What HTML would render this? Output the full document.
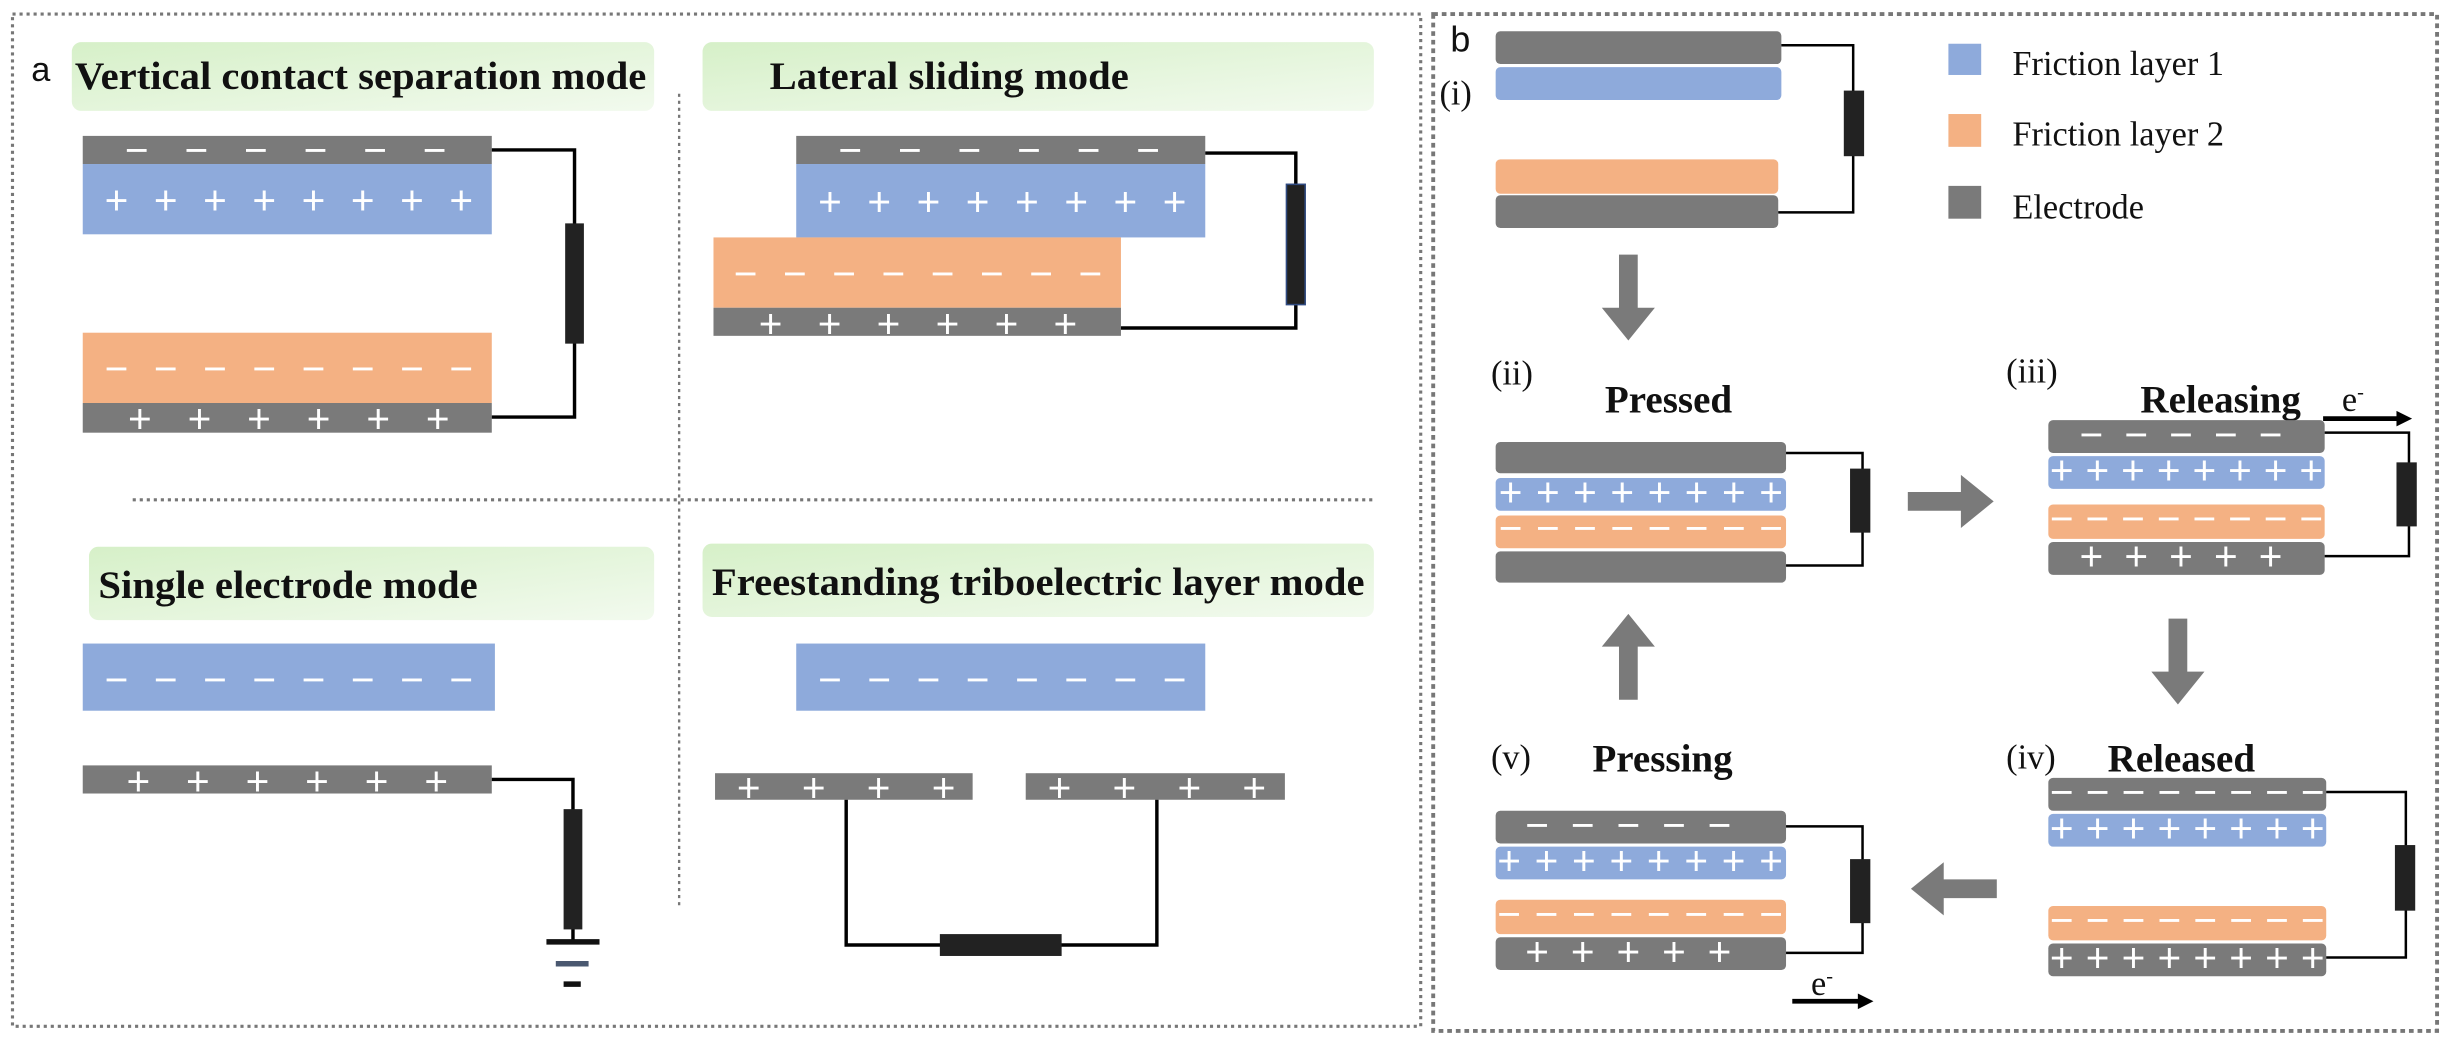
<!DOCTYPE html>
<html><head><meta charset="utf-8"><style>
html,body{margin:0;padding:0;background:#fff}
svg{display:block}
.t{font-family:"Liberation Serif",serif;font-weight:bold;font-size:25px;fill:#111}
.s{font-family:"Liberation Sans",sans-serif;fill:#fff;font-size:26px}
.r{font-family:"Liberation Serif",serif;font-size:22px;fill:#111}
.w{fill:none;stroke:#000;stroke-width:2.2}
.wb{fill:none;stroke:#000;stroke-width:1.6}
</style></head><body>
<svg width="2448" height="1045" viewBox="0 0 1568 669" preserveAspectRatio="none" xmlns="http://www.w3.org/2000/svg">
<defs>
<linearGradient id="g" x1="0" y1="0" x2="1" y2="1"><stop offset="0" stop-color="#d6f0c8"/><stop offset="1" stop-color="#f2faee"/></linearGradient>
</defs>
<rect x="8" y="9" width="902" height="648" fill="none" stroke="#777" stroke-width="2" stroke-dasharray="2 2.5"/>
<rect x="918" y="9" width="643" height="651" fill="none" stroke="#777" stroke-width="2.5" stroke-dasharray="3 2.5"/>
<line x1="435" y1="60" x2="435" y2="580" stroke="#777" stroke-width="1.5" stroke-dasharray="2 2.5"/>
<line x1="85" y1="320" x2="880" y2="320" stroke="#777" stroke-width="2" stroke-dasharray="2 2.5"/>

<text x="20" y="52" font-family="Liberation Sans,sans-serif" font-size="22" fill="#111">a</text>
<rect x="46" y="27" width="373" height="44" rx="6" fill="url(#g)"/>
<text class="t" x="48" y="57" textLength="366" lengthAdjust="spacingAndGlyphs">Vertical contact separation mode</text>
<rect x="450" y="27" width="430" height="44" rx="6" fill="url(#g)"/>
<text class="t" x="493" y="57" textLength="230" lengthAdjust="spacingAndGlyphs">Lateral sliding mode</text>
<rect x="57" y="350" width="362" height="47" rx="6" fill="url(#g)"/>
<text class="t" x="63" y="383" textLength="243" lengthAdjust="spacingAndGlyphs">Single electrode mode</text>
<rect x="450" y="348" width="430" height="47" rx="6" fill="url(#g)"/>
<text class="t" x="456" y="381" textLength="418" lengthAdjust="spacingAndGlyphs">Freestanding triboelectric layer mode</text>

<!-- VCS -->
<rect x="53" y="87" width="262" height="18" fill="#7a7a7a"/>
<rect x="53" y="105" width="262" height="45" fill="#8eaadb"/>
<rect x="53" y="213" width="262" height="45" fill="#f4b183"/>
<rect x="53" y="258" width="262" height="19" fill="#7a7a7a"/>
<text class="s" x="80" y="105" textLength="206" lengthAdjust="spacing">− − − − − −</text>
<text class="s" x="67" y="137" textLength="236" lengthAdjust="spacing">+ + + + + + + +</text>
<text class="s" x="67" y="245" textLength="236" lengthAdjust="spacing">− − − − − − − −</text>
<text class="s" x="82" y="277" textLength="206" lengthAdjust="spacing">+ + + + + +</text>
<polyline class="w" points="315,96 368,96 368,267 315,267"/>
<rect x="362" y="143" width="12" height="77" fill="#222"/>

<!-- Lateral -->
<rect x="510" y="87" width="262" height="18" fill="#7a7a7a"/>
<rect x="510" y="105" width="262" height="47" fill="#8eaadb"/>
<rect x="457" y="152" width="261" height="45" fill="#f4b183"/>
<rect x="457" y="197" width="261" height="18" fill="#7a7a7a"/>
<text class="s" x="537" y="105" textLength="206" lengthAdjust="spacing">− − − − − −</text>
<text class="s" x="524" y="138" textLength="236" lengthAdjust="spacing">+ + + + + + + +</text>
<text class="s" x="470" y="184" textLength="236" lengthAdjust="spacing">− − − − − − − −</text>
<text class="s" x="486" y="216" textLength="204" lengthAdjust="spacing">+ + + + + +</text>
<polyline class="w" points="772,98 830,98 830,210 718,210"/>
<rect x="824" y="118" width="12" height="77" fill="#222" stroke="#2f4a80" stroke-width="1"/>

<!-- Single electrode -->
<rect x="53" y="412" width="264" height="43" fill="#8eaadb"/>
<rect x="53" y="490" width="262" height="18" fill="#7a7a7a"/>
<text class="s" x="67" y="444" textLength="236" lengthAdjust="spacing">− − − − − − − −</text>
<text class="s" x="81" y="509" textLength="206" lengthAdjust="spacing">+ + + + + +</text>
<polyline class="w" points="315,499 367,499 367,603"/>
<rect x="361" y="518" width="12" height="77" fill="#222"/>
<line x1="350" y1="603" x2="384" y2="603" stroke="#111" stroke-width="3.5"/>
<line x1="356" y1="617" x2="377" y2="617" stroke="#4a5870" stroke-width="3.5"/>
<line x1="361" y1="630" x2="372" y2="630" stroke="#111" stroke-width="3.5"/>

<!-- Freestanding -->
<rect x="510" y="412" width="262" height="43" fill="#8eaadb"/>
<text class="s" x="524" y="444" textLength="236" lengthAdjust="spacing">− − − − − − − −</text>
<rect x="458" y="495" width="165" height="17" fill="#7a7a7a"/>
<rect x="657" y="495" width="166" height="17" fill="#7a7a7a"/>
<text class="s" x="472" y="513" textLength="140" lengthAdjust="spacing">+ + + +</text>
<text class="s" x="671" y="513" textLength="140" lengthAdjust="spacing">+ + + +</text>
<polyline class="w" points="542,512 542,605 741,605 741,512"/>
<rect x="602" y="598" width="78" height="14" fill="#222"/>

<!-- Panel b -->
<text x="929" y="33" font-family="Liberation Sans,sans-serif" font-size="23" fill="#111">b</text>
<text class="r" x="922" y="67">(i)</text>
<rect x="958" y="20" width="183" height="21" rx="3" fill="#7a7a7a"/>
<rect x="958" y="43" width="183" height="21" rx="3" fill="#8eaadb"/>
<rect x="958" y="102" width="181" height="22" rx="3" fill="#f4b183"/>
<rect x="958" y="125" width="181" height="21" rx="3" fill="#7a7a7a"/>
<polyline class="wb" points="1141,29 1187,29 1187,136 1139,136"/>
<rect x="1181" y="58" width="13" height="42" fill="#222"/>

<rect x="1248" y="28" width="21" height="20" fill="#8eaadb"/>
<rect x="1248" y="73" width="21" height="21" fill="#f4b183"/>
<rect x="1248" y="119" width="21" height="21" fill="#7a7a7a"/>
<text class="r" x="1289" y="48" font-size="23">Friction layer 1</text>
<text class="r" x="1289" y="93" font-size="23">Friction layer 2</text>
<text class="r" x="1289" y="140" font-size="23">Electrode</text>

<path d="M1037,163 h12 v34 h11 l-17,21 l-17,-21 h11 z" fill="#7a7a7a"/>
<path d="M1037,448 h12 v-34 h11 l-17,-21 l-17,21 h11 z" fill="#7a7a7a"/>
<path d="M1389,396 h12 v34 h11 l-17,21 l-17,-21 h11 z" fill="#7a7a7a"/>
<path d="M1222,315 h34 v-11 l21,17 l-21,17 v-11 h-34 z" fill="#7a7a7a"/>
<path d="M1279,563 h-34 v-11 l-21,17 l21,17 v-11 h34 z" fill="#7a7a7a"/>

<!-- (ii) Pressed -->
<text class="r" x="955" y="246">(ii)</text>
<text class="t" x="1028" y="264" font-size="23">Pressed</text>
<rect x="958" y="283" width="186" height="20" rx="3" fill="#7a7a7a"/>
<rect x="958" y="306" width="186" height="21" rx="3" fill="#8eaadb"/>
<rect x="958" y="330" width="186" height="21" rx="3" fill="#f4b183"/>
<rect x="958" y="353" width="186" height="20" rx="3" fill="#7a7a7a"/>
<text class="s" x="960" y="324" font-size="19" textLength="182" lengthAdjust="spacing">+ + + + + + + +</text>
<text class="s" x="960" y="347" font-size="19" textLength="182" lengthAdjust="spacing">− − − − − − − −</text>
<polyline class="wb" points="1144,290 1193,290 1193,362 1144,362"/>
<rect x="1185" y="300" width="13" height="41" fill="#222"/>

<!-- (iii) Releasing -->
<text class="r" x="1285" y="245">(iii)</text>
<text class="t" x="1371" y="264" font-size="23">Releasing</text>
<text class="r" x="1500" y="263" font-size="19">e<tspan dy="-8" font-size="13">-</tspan></text>
<line x1="1488" y1="268" x2="1538" y2="268" stroke="#000" stroke-width="3"/>
<path d="M1535,263 l10,5 l-10,5 z" fill="#000"/>
<rect x="1312" y="269" width="177" height="21" rx="3" fill="#7a7a7a"/>
<rect x="1312" y="292" width="177" height="21" rx="3" fill="#8eaadb"/>
<rect x="1312" y="323" width="177" height="22" rx="3" fill="#f4b183"/>
<rect x="1312" y="347" width="177" height="21" rx="3" fill="#7a7a7a"/>
<text class="s" x="1332" y="287" font-size="19" textLength="130" lengthAdjust="spacing">− − − − −</text>
<text class="s" x="1313" y="310" font-size="19" textLength="175" lengthAdjust="spacing">+ + + + + + + +</text>
<text class="s" x="1313" y="341" font-size="19" textLength="175" lengthAdjust="spacing">− − − − − − − −</text>
<text class="s" x="1332" y="365" font-size="19" textLength="130" lengthAdjust="spacing">+ + + + +</text>
<polyline class="wb" points="1489,277 1543,277 1543,356 1489,356"/>
<rect x="1535" y="296" width="13" height="41" fill="#222"/>

<!-- (iv) Released -->
<text class="r" x="1285" y="492">(iv)</text>
<text class="t" x="1350" y="494" font-size="23">Released</text>
<rect x="1312" y="498" width="178" height="21" rx="3" fill="#7a7a7a"/>
<rect x="1312" y="521" width="178" height="21" rx="3" fill="#8eaadb"/>
<rect x="1312" y="580" width="178" height="22" rx="3" fill="#f4b183"/>
<rect x="1312" y="604" width="178" height="21" rx="3" fill="#7a7a7a"/>
<text class="s" x="1313" y="516" font-size="19" textLength="176" lengthAdjust="spacing">− − − − − − − −</text>
<text class="s" x="1313" y="539" font-size="19" textLength="176" lengthAdjust="spacing">+ + + + + + + +</text>
<text class="s" x="1313" y="598" font-size="19" textLength="176" lengthAdjust="spacing">− − − − − − − −</text>
<text class="s" x="1313" y="622" font-size="19" textLength="176" lengthAdjust="spacing">+ + + + + + + +</text>
<polyline class="wb" points="1490,507 1541,507 1541,613 1490,613"/>
<rect x="1534" y="541" width="13" height="42" fill="#222"/>

<!-- (v) Pressing -->
<text class="r" x="955" y="492">(v)</text>
<text class="t" x="1020" y="494" font-size="23">Pressing</text>
<rect x="958" y="519" width="186" height="21" rx="3" fill="#7a7a7a"/>
<rect x="958" y="542" width="186" height="21" rx="3" fill="#8eaadb"/>
<rect x="958" y="576" width="186" height="22" rx="3" fill="#f4b183"/>
<rect x="958" y="600" width="186" height="21" rx="3" fill="#7a7a7a"/>
<text class="s" x="977" y="537" font-size="19" textLength="132" lengthAdjust="spacing">− − − − −</text>
<text class="s" x="959" y="560" font-size="19" textLength="183" lengthAdjust="spacing">+ + + + + + + +</text>
<text class="s" x="959" y="594" font-size="19" textLength="183" lengthAdjust="spacing">− − − − − − − −</text>
<text class="s" x="977" y="618" font-size="19" textLength="132" lengthAdjust="spacing">+ + + + +</text>
<polyline class="wb" points="1144,529 1193,529 1193,610 1144,610"/>
<rect x="1185" y="550" width="13" height="41" fill="#222"/>
<text class="r" x="1160" y="637" font-size="19">e<tspan dy="-8" font-size="13">-</tspan></text>
<line x1="1148" y1="641" x2="1192" y2="641" stroke="#000" stroke-width="3"/>
<path d="M1190,636 l10,5 l-10,5 z" fill="#000"/>
</svg>
</body></html>
